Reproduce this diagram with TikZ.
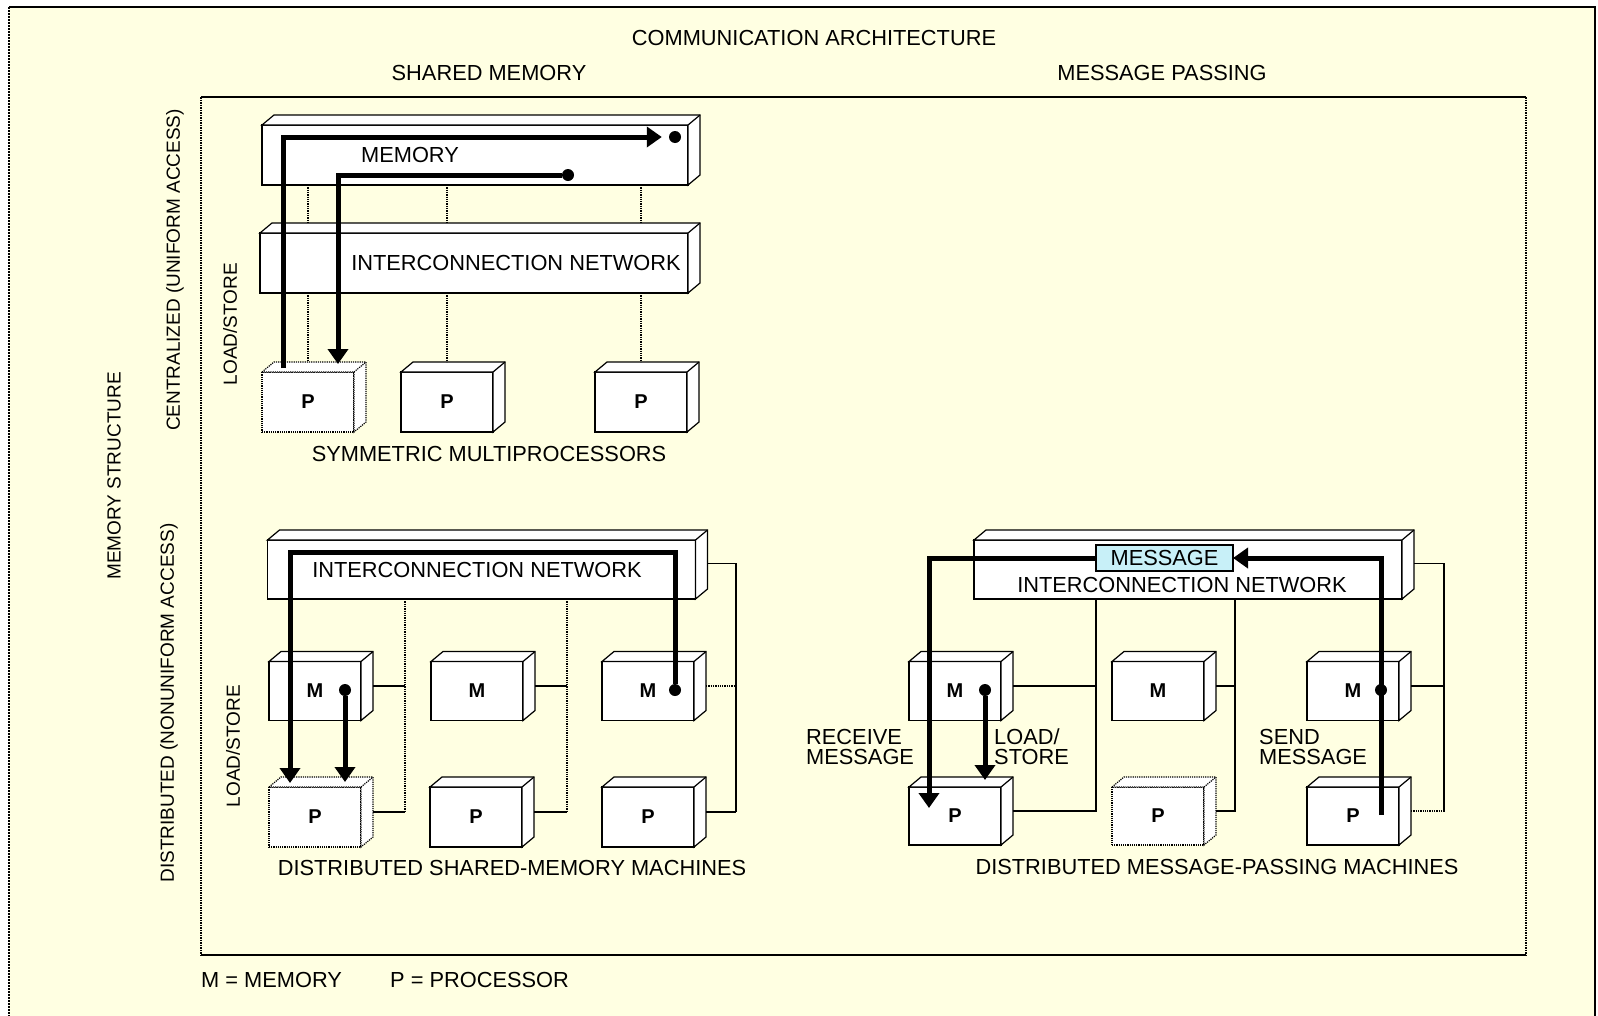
\documentclass[tikz,border=0pt]{standalone}
\usepackage{fontspec}
\setmainfont{Liberation Sans}
\usetikzlibrary{calc,arrows.meta}
\definecolor{paper}{RGB}{255,255,226}
\definecolor{msgcyan}{RGB}{200,240,248}
\tikzset{
  edge/.style={draw, line width=1.2pt, fill=white},
  box/.style={edge, inner sep=0pt, outer sep=0pt, font=\fontsize{20}{22}\selectfont\bfseries},
  small/.style={box, minimum width=92pt, minimum height=59pt},
  wide/.style={box, minimum width=428pt, minimum height=60pt},
  dotbox/.style={densely dotted},
  txt/.style={font=\fontsize{21.8}{20}\selectfont, inner sep=0pt},
  rtxt/.style={font=\fontsize{19}{20}\selectfont, inner sep=0pt, rotate=90},
  heavy/.style={line width=5pt, -{Triangle[length=15pt,width=20pt]}},
  wire/.style={line width=1.3pt},
  dwire/.style={wire, densely dotted},
  dot/.style={circle, fill=black, minimum size=12pt, inner sep=0pt},
}
\newcommand{\cubeside}[2][]{%
  \filldraw[edge,#1] (#2.north west) -- ++(12,-10) -- ($(#2.north east)+(12,-10)$) -- ($(#2.south east)+(12,-10)$) -- (#2.south east) -- (#2.north east) -- cycle;
  \draw[edge,#1] (#2.north east) -- ++(12,-10);}
\newcommand{\tap}[3]{%
  \path ($(#1.east)+(12,-5)$) coordinate (#1-r);
  \draw[#3] (#1-r) -- (#1-r -| #2);}
\begin{document}
\begin{tikzpicture}[x=1pt,y=-1pt]
\useasboundingbox (0,0) rectangle (1598,1015);
\fill[white] (0,0) rectangle (1598,1015);
% outer frame
\fill[paper] (9,7) rectangle (1595,1030);
\draw[line width=2pt] (1595,1030) -- (1595,7) -- (9,7);
\draw[line width=2pt, densely dotted] (9,7) -- (9,1030);
% inner panel
\draw[line width=1.5pt] (201,955) -- (1526,955);
\draw[line width=1.5pt] (201,97) -- (1526,97);
\draw[line width=1.5pt, densely dotted] (201,97) -- (201,955);
\draw[line width=1.5pt, densely dotted] (1526,97) -- (1526,955);

% ---------- headings ----------
\node[txt] (title) at (814,38) {COMMUNICATION ARCHITECTURE};
\node[txt] (shm) at (489,73) {SHARED MEMORY};
\node[txt] (msp) at (1162,73) {MESSAGE PASSING};
\node[rtxt] (ms) at (114,476) {MEMORY STRUCTURE};
\node[rtxt] (cen) at (175,270) {CENTRALIZED (UNIFORM ACCESS)};
\node[rtxt] (dis) at (169,703) {DISTRIBUTED (NONUNIFORM ACCESS)};
\node[rtxt] (ls1) at (230,324) {LOAD/STORE};
\node[rtxt] (ls2) at (233,746) {LOAD/STORE};

% ---------- symmetric multiprocessors ----------
\node[wide, minimum width=426pt] (mem) at (475,155) {};
\node[wide] (net1) at (474,263) {};
\node[small, dotbox, minimum height=60pt] (pa) at (308,402) {P};
\node[small, minimum height=60pt] (pb) at (447,402) {P};
\node[small, minimum height=60pt] (pc) at (641,402) {P};
\foreach \n in {mem,net1,pb,pc} {\cubeside{\n}}
\cubeside[dotbox]{pa}
\node[txt] (memlbl) at (410,155) {MEMORY};
\node[txt] (n1lbl) at (516,263) {INTERCONNECTION NETWORK};
\foreach \p in {pa,pb,pc} {
  \draw[dwire] (mem.south -| \p) -- ($(net1.north -| \p)+(0,-10)$);
  \draw[dwire] (net1.south -| \p) -- ($(\p.north)+(0,-10)$);
}
\node[txt] (smp) at (489,454) {SYMMETRIC MULTIPROCESSORS};
\node[dot] (d1) at (675,137) {};
\node[dot] (d2) at (568,175) {};
\coordinate (s1) at (283,368);
\coordinate (t2) at (338,364);
\draw[heavy, shorten >=7pt] (s1) |- (d1);
\draw[heavy] (d2) -| (t2);

% ---------- distributed shared memory ----------
\node[wide, minimum height=59pt] (net2) at (481.5,569.5) {};
\node[small] (ma) at (315,691) {M};
\node[small] (mb) at (477,691) {M};
\node[small] (mc) at (648,691) {M};
\node[small, dotbox, minimum height=60pt] (pd) at (315,817) {P};
\node[small, minimum height=60pt] (pe) at (476,817) {P};
\node[small, minimum height=60pt] (pf) at (648,817) {P};
\foreach \n in {net2,ma,mb,mc,pe,pf} {\cubeside{\n}}
\cubeside[dotbox]{pd}
\node[txt] (n2lbl) at (477,570) {INTERCONNECTION NETWORK};
\coordinate (j1) at (405,812);
\coordinate (j2) at (567,812);
\coordinate (j3) at (736,812);
\draw[dwire] (net2.south -| j1) -- (j1);
\draw[dwire] (net2.south -| j2) -- (j2);
\path ($(net2.east)+(12,-6)$) coordinate (net2-r);
\draw[wire] (net2-r) -| (j3);
\tap{ma}{j1}{wire}
\tap{pd}{j1}{wire}
\tap{mb}{j2}{wire}
\tap{pe}{j2}{wire}
\tap{mc}{j3}{dwire}
\tap{pf}{j3}{wire}
\node[txt] (dsm) at (512,868) {DISTRIBUTED SHARED-MEMORY MACHINES};
\node[dot] (d3) at (675,690) {};
\node[dot] (d4) at (345,690) {};
\coordinate (b3) at (290,552);
\coordinate (c3) at (290,783);
\coordinate (t4) at (345,782);
\draw[heavy] (d3) |- (b3) -- (c3);
\draw[heavy] (d4) -- (t4);

% ---------- distributed message passing ----------
\node[wide, minimum height=59pt] (net3) at (1188,569.5) {};
\node[small] (mg) at (955,691) {M};
\node[small] (mh) at (1158,691) {M};
\node[small] (mi) at (1353,691) {M};
\node[small, minimum height=58pt] (pg) at (955,816) {P};
\node[small, dotbox, minimum height=58pt] (ph) at (1158,816) {P};
\node[small, minimum height=58pt] (pi) at (1353,816) {P};
\foreach \n in {net3,mg,mh,mi,pg,pi} {\cubeside{\n}}
\cubeside[dotbox]{ph}
\node[box, fill=msgcyan, minimum width=137pt, minimum height=26pt, font=\fontsize{21.8}{20}\selectfont] (msg) at (1164.5,558) {MESSAGE};
\node[txt] (n3lbl) at (1182,585) {INTERCONNECTION NETWORK};
\coordinate (k1) at (1096,812);
\coordinate (k2) at (1235,812);
\coordinate (k3) at (1444,812);
\draw[wire] (net3.south -| k1) -- (k1);
\draw[wire] (net3.south -| k2) -- (k2);
\path ($(net3.east)+(12,-6)$) coordinate (net3-r);
\draw[wire] (net3-r) -| (k3);
\tap{mg}{k1}{wire}
\tap{pg}{k1}{wire}
\tap{mh}{k2}{wire}
\tap{ph}{k2}{wire}
\tap{mi}{k3}{wire}
\tap{pi}{k3}{dwire}
\node[txt] (dmp) at (1217,867) {DISTRIBUTED MESSAGE-PASSING MACHINES};
\node[txt, align=left, anchor=west] (rcv) at (806,747) {RECEIVE\\MESSAGE};
\node[txt, align=left, anchor=west] (ldst) at (994,747) {LOAD/\\STORE};
\node[txt, align=left, anchor=west] (snd) at (1259,747) {SEND\\MESSAGE};
\coordinate (s6) at (1381,815);
\coordinate (t6) at (929,808);
\coordinate (t5) at (985,780);
\draw[heavy] (s6) |- (msg.east);
\draw[heavy] (msg.west) -| (t6);
\node[dot] (d5) at (985,690) {};
\node[dot] (d6) at (1381,690) {};
\draw[heavy] (d5) -- (t5);

% ---------- legend ----------
\node[txt, anchor=west] (leg1) at (201,980) {M = MEMORY};
\node[txt, anchor=west] (leg2) at (390,980) {P = PROCESSOR};
\end{tikzpicture}
\end{document}
